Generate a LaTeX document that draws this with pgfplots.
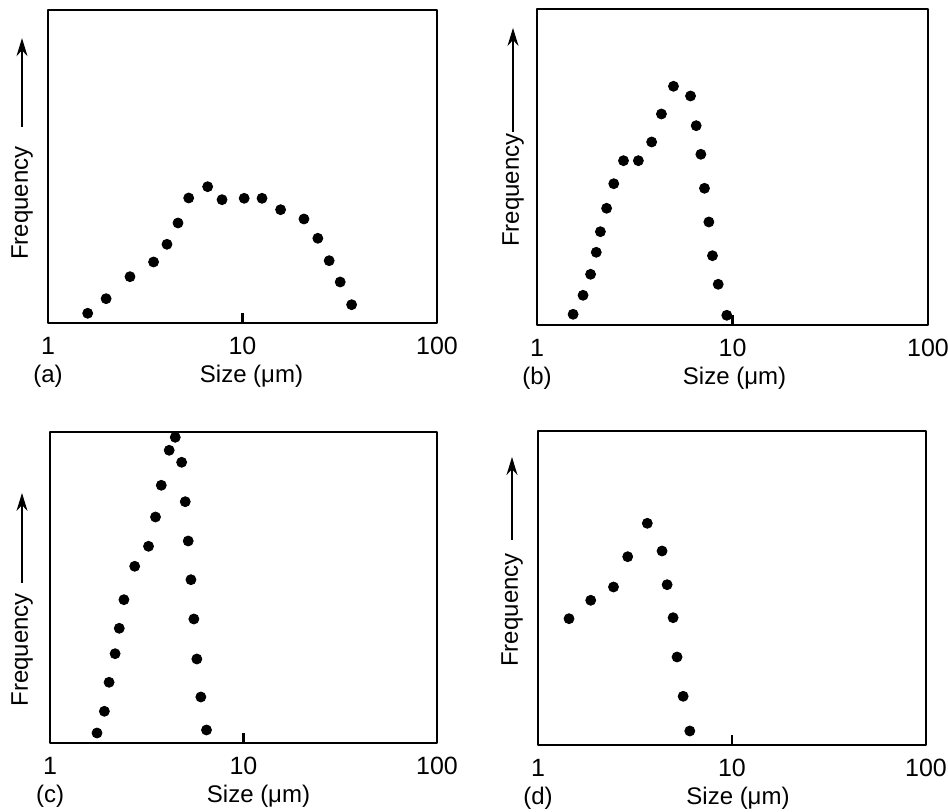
\documentclass[border=0pt]{standalone}
\usepackage{fontspec}
\setmainfont{Liberation Sans}
\usepackage{pgfplots}
\pgfplotsset{compat=1.18}
\usetikzlibrary{arrows.meta}
\pgfplotsset{/pgf/number format/assume math mode=true}
\pgfplotsset{every axis/.append style={
    anchor=south west, scale only axis, clip=false,
    xmin=1, xmax=100, ymin=0,
    xtick={1,10,100}, xticklabels={1,10,100}, xminorticks=false,
    ytick=\empty, xtick pos=left, tick align=inside,
    major tick length=5pt,
    axis line style={line width=1.4pt, line join=round},
    font=\fontsize{12}{14}\selectfont,
    xlabel={Size (μm)},
  },
  every tick/.append style={black, line width=1.4pt},
  every x tick label/.append style={anchor=center, yshift=-11.5pt, font=\fontsize{12.5}{14}\selectfont},
  every axis x label/.append style={anchor=center, at={(axis description cs:0.5,0)}, yshift=-26.5pt},
}
\newcommand{\freqlabel}[4]{%
  \node[rotate=90, anchor=center, inner sep=0pt] at ([xshift=-#1]rel axis cs:0,#2) {Frequency};
  \draw[line width=0.7pt, -{Stealth[length=9pt,width=5.5pt]}] ([xshift=-#1]rel axis cs:0,#3) -- ([xshift=-#1]rel axis cs:0,#4);
}
\begin{document}
\begin{tikzpicture}
\path[use as bounding box] (0,0) rectangle (474pt,406pt);

% (a)
\begin{semilogxaxis}[at={(24pt,244.5pt)}, width=194.5pt, height=156.5pt, ymax=313,
  xlabel style={xshift=4.5pt}]
\addplot[only marks, mark=*, mark size=2.5pt, black] coordinates {
(1.60,9.7) (1.99,24.3) (2.64,46.3) (3.49,61) (4.09,78.7) (4.66,100)
(5.29,125) (6.62,136.3) (7.85,123.3) (10.2,124.7) (12.6,124.7) (15.7,113.3)
(20.7,104) (24.4,84.7) (27.9,62.3) (31.8,41) (36.4,18.3)
};
\node[anchor=center] at ([yshift=-26.5pt]rel axis cs:0,0) {(a)};
\freqlabel{13pt}{0.383}{0.626}{0.91}
\end{semilogxaxis}

% (b)
\begin{semilogxaxis}[at={(268.5pt,243.5pt)}, width=195.5pt, height=158pt, ymax=316,
  xlabel style={xshift=1pt}]
\addplot[only marks, mark=*, mark size=2.5pt, black] coordinates {
(1.53,10.7) (1.72,29.7) (1.88,50.7) (2.01,72.7) (2.11,93.3) (2.27,116.7)
(2.47,141.3) (2.77,164.3) (3.30,164.3) (3.86,183) (4.33,211) (4.99,238.7)
(6.10,229) (6.52,199.3) (6.89,170.7) (7.19,136.7) (7.57,103) (7.90,69.3)
(8.45,40.7) (9.35,9.7)
};
\node[anchor=center] at ([yshift=-26.5pt]rel axis cs:0,0) {(b)};
\freqlabel{12pt}{0.427}{0.61}{0.94}
\end{semilogxaxis}

% (c)
\begin{semilogxaxis}[at={(25pt,34.5pt)}, width=193.5pt, height=155.5pt, ymax=311,
  xlabel style={xshift=7.5pt}]
\addplot[only marks, mark=*, mark size=2.5pt, black] coordinates {
(1.75,10) (1.91,31.7) (2.02,60.7) (2.17,89.3) (2.28,114.7) (2.41,143.3)
(2.74,176.7) (3.23,196.7) (3.51,226) (3.76,257.7) (4.13,292.7) (4.44,305.7)
(4.79,280.7) (5.00,241.3) (5.18,202) (5.35,163.3) (5.54,124) (5.74,84)
(6.02,46) (6.44,13)
};
\node[anchor=center] at ([yshift=-26.5pt]rel axis cs:0,0) {(c)};
\freqlabel{14pt}{0.30}{0.514}{0.804}
\end{semilogxaxis}

% (d)
\begin{semilogxaxis}[at={(269pt,33.5pt)}, width=194pt, height=157pt, ymax=314,
  xlabel style={xshift=3pt}]
\addplot[only marks, mark=*, mark size=2.5pt, black] coordinates {
(1.445,126.3) (1.87,144.7) (2.45,158) (2.90,188.3) (3.66,221.7) (4.36,194)
(4.63,160.3) (4.97,127.3) (5.21,88) (5.60,48.7) (6.06,14)
};
\node[anchor=center] at ([yshift=-26.5pt]rel axis cs:0,0) {(d)};
\freqlabel{13pt}{0.43}{0.653}{0.917}
\end{semilogxaxis}
\end{tikzpicture}
\end{document}
